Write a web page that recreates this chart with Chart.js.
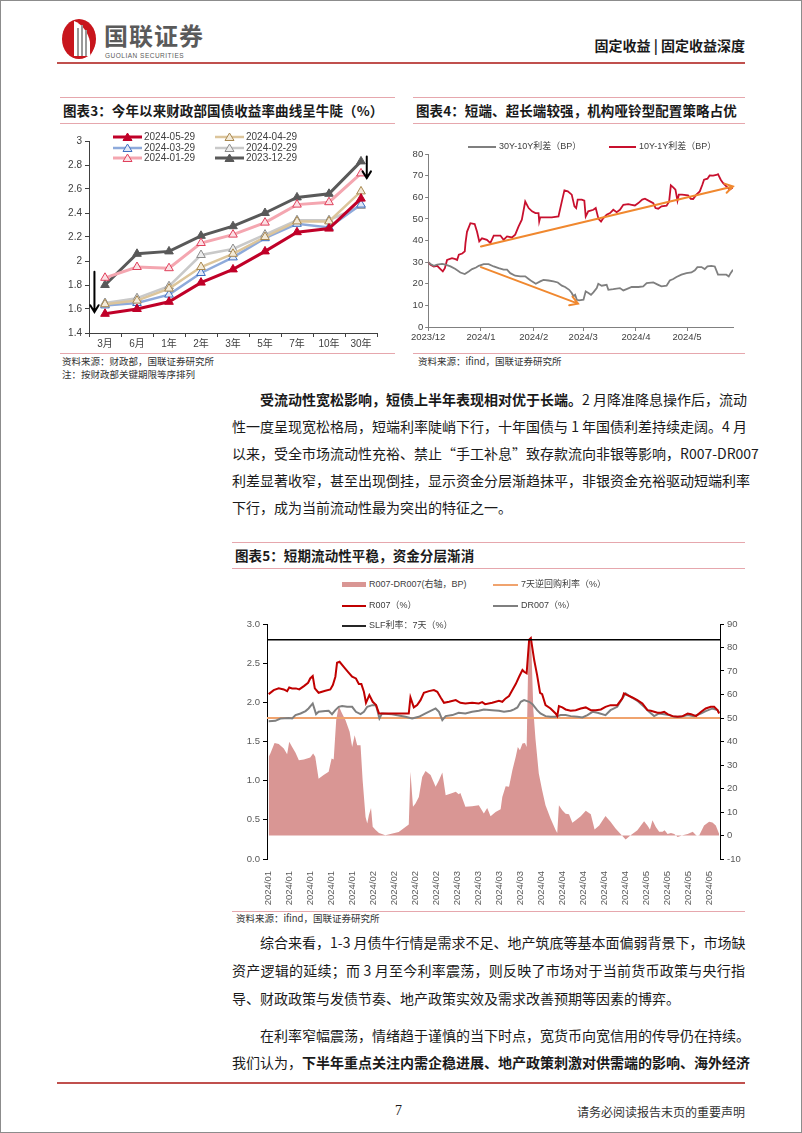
<!DOCTYPE html>
<html>
<head>
<meta charset="utf-8">
<script src="https://cdn.jsdelivr.net/npm/chart.js@4.4.1/dist/chart.umd.min.js"></script>
<style>
html, body { margin: 0; padding: 0; background: #fff; }
body { width: 802px; height: 1133px; position: relative; overflow: hidden;
       font-family: "Noto Sans CJK SC", sans-serif; color: #1a1a1a; }
.frame { position: absolute; left: 0; top: 0; width: 800px; height: 1131px; border: 1px solid #8c8c8c; }
.abs { position: absolute; }
.rule { position: absolute; height: 0; border-top: 2px solid #c0504d; }
.pink { position: absolute; height: 0; border-top: 1px solid #e6a7ad; }
.ttl { position: absolute; height: 25px; line-height: 25px; border-top: 1.5px solid #e6a7ad;
       border-bottom: 1.5px solid #e6a7ad; font-weight: 700; font-size: 13.5px; padding-left: 3px;
       letter-spacing: 0.1px; white-space: nowrap; }
.src { position: absolute; font-size: 9.5px; color: #333; white-space: nowrap; }
.ln { position: absolute; left: 232px; width: 513px; height: 20px; line-height: 20px; font-size: 14px;
      text-align: justify; text-align-last: justify; white-space: nowrap; color: #1a1a1a; }
.ln.last { text-align-last: left; }
.ln b { font-weight: 700; }
.lg { position: absolute; font-size: 9px; color: #404040; white-space: nowrap; line-height: 12px; height: 12px;
      font-family: "Liberation Sans", Arial, "Noto Sans CJK SC", sans-serif; }
.lg i { display: inline-block; vertical-align: middle; margin-right: 3px; }
canvas { position: absolute; }
</style>
</head>
<body>
<div class="frame"></div>

<!-- header -->
<svg class="abs" style="left:60px;top:16px" width="40" height="44" viewBox="0 0 40 44">
  <ellipse cx="19" cy="23" rx="17" ry="20" fill="#c8161d"/>
  <path d="M14 5 C22 8 28 16 30 26 L30 40 L14 40 Z" fill="#fff"/>
  <rect x="17" y="12" width="2" height="28" fill="#9a9a9a"/>
  <rect x="21" y="9" width="2" height="31" fill="#9a9a9a"/>
  <rect x="25" y="14" width="2" height="26" fill="#9a9a9a"/>
  <path d="M30 10 C36 16 37 30 30 40 C33 30 33 20 30 10 Z" fill="#c8161d"/>
</svg>
<div class="abs" style="left:104px;top:20px;font-size:24px;font-weight:700;color:#5a5a5a;letter-spacing:1px;line-height:30px">国联证券</div>
<div class="abs" style="left:105px;top:52px;font-size:6.5px;color:#5a5a5a;letter-spacing:0.5px;font-family:'Liberation Sans',Arial,sans-serif">GUOLIAN SECURITIES</div>
<div class="abs" style="right:57px;top:35px;font-size:14px;font-weight:700;line-height:20px">固定收益 | 固定收益深度</div>
<div class="rule" style="left:57px;top:62px;width:688px"></div>

<!-- chart 3 -->
<div class="ttl" style="left:60px;top:97px;width:332px">图表3：今年以来财政部国债收益率曲线呈牛陡（%）</div>
<canvas id="curveChart" width="330" height="222" style="left:60px;top:130px"></canvas>
<div id="curveLegend"></div>
<div class="pink" style="left:60px;top:353px;width:335px"></div>
<div class="src" style="left:62px;top:354px">资料来源：财政部，国联证券研究所</div>
<div class="src" style="left:62px;top:367px">注：按财政部关键期限等序排列</div>

<!-- chart 4 -->
<div class="ttl" style="left:413px;top:97px;width:329px">图表4：短端、超长端较强，机构哑铃型配置策略占优</div>
<canvas id="spreadChart" width="340" height="222" style="left:410px;top:130px"></canvas>
<div class="lg" style="left:468px;top:140px"><i style="width:28px;height:2px;background:#7f7f7f"></i>30Y-10Y利差（BP）</div>
<div class="lg" style="left:609px;top:140px"><i style="width:27px;height:2px;background:#c8102e"></i>10Y-1Y利差（BP）</div>
<div class="pink" style="left:413px;top:353px;width:332px"></div>
<div class="src" style="left:418px;top:354px">资料来源：ifind，国联证券研究所</div>

<!-- paragraph 1 -->
<div class="ln" style="top:389px;left:260px;width:485px"><b>受流动性宽松影响，短债上半年表现相对优于长端。</b>2 月降准降息操作后，流动</div>
<div class="ln" style="top:416px">性一度呈现宽松格局，短端利率陡峭下行，十年国债与 1 年国债利差持续走阔。4 月</div>
<div class="ln" style="top:443px">以来，受全市场流动性充裕、禁止“手工补息”致存款流向非银等影响，R007-DR007</div>
<div class="ln" style="top:470px">利差显著收窄，甚至出现倒挂，显示资金分层渐趋抹平，非银资金充裕驱动短端利率</div>
<div class="ln last" style="top:497px">下行，成为当前流动性最为突出的特征之一。</div>

<!-- chart 5 -->
<div class="ttl" style="left:232px;top:542px;width:510px">图表5：短期流动性平稳，资金分层渐消</div>
<canvas id="repoChart" width="515" height="298" style="left:232px;top:612px"></canvas>
<div class="lg" style="left:342px;top:578px"><i style="width:24px;height:5px;background:#d99694"></i>R007-DR007(右轴，BP)</div>
<div class="lg" style="left:493px;top:578px"><i style="width:25px;height:2px;background:#f0a36e"></i>7天逆回购利率（%）</div>
<div class="lg" style="left:342px;top:599px"><i style="width:24px;height:2px;background:#c00000"></i>R007（%）</div>
<div class="lg" style="left:493px;top:599px"><i style="width:25px;height:2px;background:#7f7f7f"></i>DR007（%）</div>
<div class="lg" style="left:342px;top:619px"><i style="width:24px;height:2px;background:#262626"></i>SLF利率：7天（%）</div>
<div class="pink" style="left:232px;top:911px;width:513px"></div>
<div class="src" style="left:236px;top:911px">资料来源：ifind，国联证券研究所</div>

<!-- paragraphs 2 and 3 -->
<div class="ln" style="top:932px;left:260px;width:485px">综合来看，1-3 月债牛行情是需求不足、地产筑底等基本面偏弱背景下，市场缺</div>
<div class="ln" style="top:960px">资产逻辑的延续；而 3 月至今利率震荡，则反映了市场对于当前货币政策与央行指</div>
<div class="ln last" style="top:988px">导、财政政策与发债节奏、地产政策实效及需求改善预期等因素的博弈。</div>
<div class="ln" style="top:1025px;left:260px;width:485px">在利率窄幅震荡，情绪趋于谨慎的当下时点，宽货币向宽信用的传导仍在持续。</div>
<div class="ln" style="top:1052px">我们认为，<b>下半年重点关注内需企稳进展、地产政策刺激对供需端的影响、海外经济</b></div>

<!-- footer -->
<div class="rule" style="left:57px;top:1082px;width:688px"></div>
<div class="abs" style="left:395px;top:1103px;font-size:14px;font-family:'Liberation Serif',serif">7</div>
<div class="abs" style="right:57px;top:1103px;font-size:12px;color:#333">请务必阅读报告末页的重要声明</div>

<script>
// ---------- chart 3: treasury curves ----------
const tenorLabels = ['3月', '6月', '1年', '2年', '3年', '5年', '7年', '10年', '30年'];
const curve20240529 = [1.56, 1.60, 1.66, 1.82, 1.93, 2.08, 2.24, 2.27, 2.52];
const curve20240429 = [1.64, 1.67, 1.77, 1.95, 2.06, 2.20, 2.33, 2.33, 2.58];
const curve20240329 = [1.63, 1.65, 1.72, 1.90, 2.03, 2.19, 2.31, 2.28, 2.47];
const curve20240229 = [1.65, 1.69, 1.79, 2.05, 2.10, 2.22, 2.34, 2.34, 2.46];
const curve20240129 = [1.86, 1.95, 1.94, 2.15, 2.22, 2.32, 2.47, 2.49, 2.73];
const curve20231229 = [1.80, 2.06, 2.08, 2.21, 2.29, 2.40, 2.53, 2.56, 2.83];
// arrows in data units: [x1, y1, x2, y2]
const curveArrows = [[-0.33, 1.91, -0.33, 1.575], [8.18, 2.87, 8.18, 2.69]];

// ---------- chart 4: term spreads (x = days since 2023-12-01) ----------
const monthTickDays = [0, 31, 62, 91, 122, 152];
const monthTickLabels = ['2023/12', '2024/1', '2024/2', '2024/3', '2024/4', '2024/5'];
const spread10y1yDays = [0, 1.4, 3.3, 5.3, 7.2, 8.6, 9.8, 11.1, 14, 16, 17, 18, 20, 21.5, 21.9, 22.8, 24.8, 27.3, 28.7, 30,
  31.6, 34.5, 36.5, 38.5, 42.4, 44.3, 46.3, 49.2, 51.1, 53.1, 55, 57, 59, 61, 63, 64.8, 65.2, 65.8, 68.7, 72.6,
  76.5, 78.5, 80, 82, 84.3, 85.9, 86.9, 87.8, 90.2, 91.7, 92.5, 94, 97, 98.4, 100, 101.5, 102.9, 104.8, 106.8, 108.7,
  110.7, 112.6, 114.6, 117.5, 119.5, 121.4, 123.4, 125.7, 127.3, 130.2, 132.2, 133.5, 135.1, 137, 140, 141.5, 142.5, 143.9, 145.2, 146.4,
  147.2, 149.1, 152.6, 154.2, 155.6, 157.5, 159.5, 161, 162, 164, 165.3, 167.3, 169.2, 170.2, 171.8, 173.1, 175.1, 177, 179];
const spread10y1y = [30, 28.8, 28, 28.3, 26.8, 25.7, 27.2, 31, 31.8, 31.4, 31, 33.4, 34, 35, 38.8, 44, 48, 47.6, 44, 39.6,
  41, 40.3, 38.8, 42.3, 42.3, 40.3, 41.9, 41.4, 42.7, 46.5, 49.6, 58, 55, 53.5, 52.7, 52.7, 48.8, 50.7, 50.7, 50.7,
  51.1, 58.1, 63.2, 62.7, 61.2, 55.8, 55, 58.9, 58.9, 58.4, 51.1, 53.5, 54.2, 55, 50, 48.8, 50.4, 51.9, 52.7, 54.2,
  53.1, 54.2, 56.5, 56.8, 56.5, 56.2, 57.3, 58.9, 59.3, 58.1, 57.3, 55, 54.7, 55.8, 56.1, 58.1, 65.5, 64.6, 63.5, 58.4,
  61.2, 61.2, 60.9, 59.3, 59.2, 61.2, 62.7, 65.8, 68.1, 68.6, 70.1, 70, 70.3, 70.7, 68.1, 66.6, 65, 63.5, 64.6];
const spread30y10yDays = [0, 1.4, 3.3, 5.3, 8.2, 10.2, 13.1, 16, 18.9, 21.5, 23.8, 25.8, 28.1, 29.7, 32.6, 35.5, 38.5, 41.4, 44.3, 46.3,
  48.2, 51.1, 54.1, 57, 59, 60.9, 63.2, 65.8, 67.7, 70.7, 73.6, 76.1, 78.5, 80.4, 82.8, 84.3, 85.3, 86.3, 87.3, 88.6,
  91.2, 92.5, 94.1, 95.6, 97, 99, 99.9, 101.9, 104.8, 105.8, 108.7, 112.6, 114.6, 116.5, 119.5, 123.4, 126.3, 128.3, 132.2, 135.1,
  137, 140, 141.9, 143.9, 145.8, 148.7, 151.7, 154.6, 156.6, 158.1, 160.5, 162.4, 164, 166.3, 168.3, 170.2, 173.1, 175.1, 176.5, 177.6, 179];
const spread30y10y = [30, 29.1, 28.3, 28.8, 29.2, 28.8, 28, 26.8, 25.2, 24.5, 25.7, 26.8, 27.5, 28.3, 29.1, 29.1, 28, 27.2, 26.5, 26.5,
  24.9, 23.7, 23.4, 23.4, 22.2, 21.1, 20, 21.1, 21.8, 21.5, 21.1, 20.6, 19.1, 18.5, 17.2, 15.7, 14.2, 14.9, 12.6, 12.3,
  12.6, 16.5, 15.7, 14.9, 16, 18, 20, 19.1, 19.5, 17.2, 17.5, 18, 16.9, 17.5, 18.5, 18.5, 18.8, 20.3, 20.6, 19.5,
  18.8, 19.1, 21.5, 22.2, 23.1, 24.2, 24.9, 25.2, 26.2, 27.7, 27.7, 26.8, 28, 28.3, 28, 24.2, 24.2, 24.2, 23.4, 24.9, 26.5];
const spreadArrows = [[31, 37.2, 179, 65], [31, 27.7, 88, 10.8]];

// ---------- chart 5: repo rates (x = trading-day index) ----------
const dayTickIdx = [0, 5, 10, 15, 20, 25, 30, 35, 40, 45, 50, 55, 60, 65, 70, 75, 80, 85, 90, 95, 100, 105];
const dayTickLabels = ['2024/01', '2024/01', '2024/01', '2024/01', '2024/01', '2024/02', '2024/02', '2024/02', '2024/02',
  '2024/03', '2024/03', '2024/03', '2024/03', '2024/04', '2024/04', '2024/04', '2024/04', '2024/04',
  '2024/05', '2024/05', '2024/05', '2024/05'];
const r007Idx = [0, 1.2, 2.4, 3.6, 4.4, 4.9, 5.6, 6.5, 7.3, 8.4, 9.4, 9.9, 10.5, 11, 11.9, 13.5, 14.7, 15.3, 15.9, 16.3,
  16.9, 17.9, 18.9, 19.9, 20.8, 21.5, 22.1, 22.7, 23.2, 24, 24.8, 25.6, 26.3, 33.4, 33.8, 34.6, 35.4, 36.2, 37, 38.2,
  39.4, 40.2, 41, 41.8, 43, 44.6, 45.7, 46.9, 48.5, 50.1, 50.9, 51.6, 53.3, 54.9, 55.7, 56.5, 57.3, 58.1, 58.9, 59.7,
  60.5, 60.9, 61.5, 62.1, 62.5, 63.3, 64, 64.7, 65.2, 66, 67.2, 68.4, 68.8, 69.2, 70, 70.8, 72, 73.2, 74.4, 75.6,
  76.8, 78, 79.2, 80.3, 81.5, 83.1, 84.3, 84.7, 85.5, 86.7, 87.9, 89.1, 90.3, 91.1, 91.9, 92.7, 93.5, 94.3, 95.1, 96.3,
  97.5, 98.7, 99.9, 100.7, 101.9, 103.1, 104.2, 105.4, 106.2, 107, 107.4];
const r007 = [2.105, 2.156, 2.178, 2.165, 2.143, 2.19, 2.178, 2.178, 2.165, 2.207, 2.25, 2.305, 2.335, 2.178, 2.122, 2.148, 2.165, 2.22, 2.327, 2.506,
  2.518, 2.454, 2.39, 2.327, 2.305, 2.233, 2.233, 2.135, 1.994, 2.092, 2.007, 1.964, 1.858, 1.858, 2.062, 1.935, 1.964, 2.028, 2.122, 2.143,
  2.156, 2.135, 2.062, 1.994, 2.007, 2.028, 1.994, 1.986, 1.994, 1.986, 2.003, 1.977, 1.994, 2.02, 2.007, 2.05, 2.08, 2.156, 2.233, 2.327,
  2.412, 2.39, 2.37, 2.80, 2.82, 2.54, 2.348, 2.122, 2.105, 1.964, 1.922, 1.858, 1.824, 1.952, 1.935, 1.909, 1.892, 1.9, 1.922, 1.935,
  1.9, 1.9, 1.909, 1.943, 1.964, 1.964, 2.05, 2.114, 2.092, 2.062, 2.028, 1.986, 1.9, 1.892, 1.879, 1.866, 1.866, 1.879, 1.849, 1.824,
  1.815, 1.824, 1.858, 1.849, 1.824, 1.879, 1.922, 1.943, 1.943, 1.9, 1.858];
const dr007Idx = [0, 1.6, 2.8, 4.8, 5.6, 6.4, 7.6, 8.8, 9.5, 10.5, 11.3, 11.9, 13.5, 14.3, 15.1, 15.9, 16.7, 17.5, 18.7, 19.9,
  20.8, 21.9, 22.7, 23.5, 24.7, 25.6, 26.4, 27, 29.4, 32.6, 34.2, 35.8, 37.4, 39.8, 40.6, 41.4, 42.2, 43.8, 45.3, 46.9,
  48.5, 50.1, 51.3, 53.3, 54.9, 56.1, 57.7, 58.5, 59.3, 60.1, 60.9, 62.1, 62.9, 64, 64.8, 66, 67.2, 68.4, 69.6, 70.8,
  72, 73.6, 74.8, 76, 77.2, 78.4, 80.3, 81.5, 83.1, 84.3, 85.1, 86.3, 87.9, 89.5, 90.7, 91.9, 93.1, 94.3, 95.5, 96.7,
  98.3, 99.9, 101.4, 103, 104.2, 105.8, 107, 107.4];
const dr007 = [1.76, 1.764, 1.794, 1.8, 1.794, 1.837, 1.858, 1.888, 1.922, 1.986, 1.849, 1.879, 1.888, 1.892, 1.849, 1.9, 1.943, 1.952, 1.943, 1.943,
  1.879, 1.849, 1.879, 1.943, 1.964, 1.964, 1.794, 1.858, 1.849, 1.815, 1.794, 1.815, 1.858, 1.922, 1.879, 1.773, 1.824, 1.837, 1.866, 1.858,
  1.879, 1.892, 1.909, 1.9, 1.892, 1.879, 1.892, 1.909, 1.935, 2.007, 2.028, 2.007, 1.977, 1.9, 1.858, 1.824, 1.815, 1.815, 1.837, 1.837,
  1.824, 1.815, 1.807, 1.837, 1.879, 1.866, 1.837, 1.9, 1.943, 2.05, 2.114, 2.071, 2.02, 1.943, 1.879, 1.824, 1.858, 1.849, 1.837, 1.815,
  1.815, 1.837, 1.824, 1.858, 1.888, 1.922, 1.9, 1.866];
const spreadIdx = [0, 0.4, 1.4, 2.4, 3.6, 4.4, 4.9, 5.6, 6.4, 7.2, 8.4, 9.9, 10.6, 11.1, 11.9, 13.1, 14.3, 15, 15.5, 16.1,
  16.7, 17.5, 18.3, 19.3, 19.9, 20.5, 21.1, 21.9, 22.4, 23.1, 23.5, 23.9, 24.4, 24.8, 25.5, 26.3, 27, 27.8, 31, 33.4,
  33.8, 34.4, 35, 35.8, 36.6, 37.4, 38.6, 39.8, 40.6, 41.4, 42.2, 43.8, 44.6, 45.3, 45.7, 46.9, 48.5, 50.1, 51.3, 52.1,
  52.9, 54.1, 55.3, 55.7, 56.5, 57.3, 58.1, 58.9, 59.4, 59.9, 60.5, 61.1, 61.5, 61.9, 62.2, 62.6, 63.1, 63.6, 64.4, 65.2,
  66, 67.2, 68.4, 68.8, 69.2, 70, 70.8, 71.6, 72.4, 73.2, 74.4, 75.6, 76.8, 77.7, 78.8, 80.3, 81.5, 82.7, 83.9, 85.1,
  86.3, 87.9, 89.5, 90.3, 90.9, 91.5, 92.3, 93.1, 93.9, 94.4, 95.1, 95.9, 96.7, 97.5, 98.7, 99.9, 101.1, 101.9, 102.6, 103.8,
  105, 105.8, 106.6, 107.4];
const spreadBp = [33.5, 34.9, 39.4, 38.9, 37, 34.6, 39.9, 37.7, 35.2, 32, 32.3, 33.2, 34.9, 33.5, 24.2, 25.7, 27.1, 32.8, 32.3, 49.1,
  55.1, 51.9, 49.1, 44.1, 37.7, 42.7, 38.4, 38.4, 23.5, 7.9, 5.1, 8.7, 11.7, 3.7, 2.3, 1.1, 0.6, 0.1, 1.5, 4.7,
  27.1, 12.2, 13.6, 16.4, 24.9, 27.5, 25.7, 20.7, 23.5, 26.8, 17.1, 18.1, 18.6, 17.6, 18.1, 12.2, 12.4, 12.9, 9.4, 11.7,
  8.2, 10, 11.2, 16.4, 21, 20.7, 27.8, 33.5, 37.7, 36.3, 39.1, 39.4, 37.7, 76.1, 83.9, 81.8, 53.4, 41.3, 26.4, 19.3,
  12.9, 7.2, 2.3, 1.1, 12.9, 10.7, 9.3, 9, 5.4, 6.5, 8.2, 10.5, 9, 2.6, 4.3, 8.3, 5.8, 3, 0.6, -1.7,
  0.1, 2.2, 6.1, 4.3, 2.6, 6.5, 3.6, 1.6, 1.6, 2.2, 0.6, 1.1, 0.6, -0.6, 0.1, 0.6, 1.6, 0.1, -0.1, 4.3,
  5.8, 5.5, 4.3, 0.6];
const reverseRepo7d = 1.80;
const slf7d = 2.80;

Chart.defaults.font.family = "'Liberation Sans', Arial, 'Noto Sans CJK SC', sans-serif";
Chart.defaults.animation = false;

function pts(xs, ys) {
  return xs.map((x, i) => ({ x: x, y: ys[i] }));
}

const arrowPlugin = {
  id: 'arrows',
  afterDatasetsDraw(chart, args, opts) {
    const ctx = chart.ctx;
    const xs = chart.scales.x, ys = chart.scales.y;
    ctx.save();
    ctx.strokeStyle = opts.color;
    ctx.lineWidth = opts.width;
    ctx.lineCap = 'round';
    opts.items.forEach(a => {
      const x1 = xs.getPixelForValue(a[0]), y1 = ys.getPixelForValue(a[1]);
      const x2 = xs.getPixelForValue(a[2]), y2 = ys.getPixelForValue(a[3]);
      const ang = Math.atan2(y2 - y1, x2 - x1);
      ctx.beginPath();
      ctx.moveTo(x1, y1);
      ctx.lineTo(x2, y2);
      ctx.moveTo(x2 - opts.head * Math.cos(ang - 0.55), y2 - opts.head * Math.sin(ang - 0.55));
      ctx.lineTo(x2, y2);
      ctx.lineTo(x2 - opts.head * Math.cos(ang + 0.55), y2 - opts.head * Math.sin(ang + 0.55));
      ctx.stroke();
    });
    ctx.restore();
  }
};

// chart 3
var curveSeries = [
  { label: '2024-05-29', data: curve20240529, line: '#c00028', mark: '#c00028', fill: '#c00028', w: 3 },
  { label: '2024-04-29', data: curve20240429, line: '#dcc59b', mark: '#a8874f', fill: '#f3ead8', w: 2.5 },
  { label: '2024-03-29', data: curve20240329, line: '#8eaadb', mark: '#3f6fc0', fill: '#dfe8f7', w: 2.5 },
  { label: '2024-02-29', data: curve20240229, line: '#c9c9c9', mark: '#8c8c8c', fill: '#ececec', w: 2.5 },
  { label: '2024-01-29', data: curve20240129, line: '#f4a6b0', mark: '#e0405c', fill: '#fbe0e4', w: 3 },
  { label: '2023-12-29', data: curve20231229, line: '#595959', mark: '#595959', fill: '#595959', w: 3 },
];

new Chart(document.getElementById('curveChart'), {
  type: 'line',
  data: {
    labels: tenorLabels,
    datasets: curveSeries.map(s => ({
      label: s.label, data: s.data, borderColor: s.line, borderWidth: s.w,
      pointStyle: 'triangle', pointRadius: 5, pointBorderWidth: 1,
      pointBorderColor: s.mark, pointBackgroundColor: s.fill, tension: 0,
    })),
  },
  options: {
    responsive: false,
    layout: { padding: { top: 11, right: 13, bottom: 0, left: 0 } },
    plugins: {
      legend: { display: false },
      tooltip: { enabled: false },
      arrows: { items: curveArrows, color: '#000', width: 2, head: 8 },
    },
    scales: {
      x: {
        offset: true,
        grid: { display: true, drawOnChartArea: false, offset: true, tickLength: 4, color: '#404040' },
        border: { color: '#404040' },
        ticks: { color: '#404040', font: { size: 10 }, padding: 1, maxRotation: 0 },
        afterFit: s => { s.height = 19; },
      },
      y: {
        min: 1.4, max: 3,
        grid: { display: true, drawOnChartArea: false, tickLength: 4, color: '#404040' },
        border: { color: '#404040' },
        ticks: { stepSize: 0.2, color: '#404040', font: { size: 10 }, padding: 3,
                 callback: v => String(+v.toFixed(1)) },
        afterFit: s => { s.width = 29; },
      },
    },
  },
  plugins: [arrowPlugin],
});

// chart 3 legend (two columns, three rows)
(function () {
  var box = document.getElementById('curveLegend');
  var rows = [137, 148, 158];
  var cols = [113, 215];
  curveSeries.forEach(function (s, i) {
    var el = document.createElement('div');
    el.className = 'lg';
    el.style.left = cols[i % 2] + 'px';
    el.style.top = (rows[Math.floor(i / 2)] - 6) + 'px';
    el.style.fontSize = '10px';
    el.innerHTML = '<svg width="29" height="10" style="vertical-align:middle;margin-right:2px">' +
      '<line x1="0" y1="5" x2="29" y2="5" stroke="' + s.line + '" stroke-width="' + s.w + '"/>' +
      '<polygon points="14.5,1 19,8.5 10,8.5" fill="' + s.fill + '" stroke="' + s.mark + '" stroke-width="1"/></svg>' + s.label;
    box.appendChild(el);
  });
})();

// chart 4
new Chart(document.getElementById('spreadChart'), {
  type: 'line',
  data: {
    datasets: [
      { label: '30Y-10Y利差（BP）', data: pts(spread30y10yDays, spread30y10y), borderColor: '#7f7f7f',
        borderWidth: 1.8, pointRadius: 0, tension: 0 },
      { label: '10Y-1Y利差（BP）', data: pts(spread10y1yDays, spread10y1y), borderColor: '#c8102e',
        borderWidth: 1.8, pointRadius: 0, tension: 0 },
    ],
  },
  options: {
    responsive: false,
    layout: { padding: { top: 24, right: 17, bottom: 0, left: 0 } },
    plugins: {
      legend: { display: false },
      tooltip: { enabled: false },
      arrows: { items: spreadArrows, color: '#f0882f', width: 2, head: 9 },
    },
    scales: {
      x: {
        type: 'linear', min: 0, max: 179,
        afterBuildTicks: s => { s.ticks = monthTickDays.map(v => ({ value: v })); },
        grid: { display: true, drawOnChartArea: false, tickLength: 4, color: '#808080' },
        border: { color: '#808080' },
        ticks: { autoSkip: false, maxRotation: 0, color: '#404040', font: { size: 9.5 }, padding: 1,
                 callback: (v, i) => monthTickLabels[i] },
        afterFit: s => { s.height = 25; },
      },
      y: {
        min: 0, max: 80,
        grid: { display: true, drawOnChartArea: false, tickLength: 3, color: '#808080' },
        border: { color: '#808080' },
        ticks: { stepSize: 10, color: '#404040', font: { size: 9.5 }, padding: 2 },
        afterFit: s => { s.width = 18; },
      },
    },
  },
  plugins: [arrowPlugin],
});

// chart 5
var xMin = -0.4, xMax = 107.6;
new Chart(document.getElementById('repoChart'), {
  type: 'line',
  data: {
    datasets: [
      { label: 'SLF利率：7天（%）', data: [{ x: xMin, y: slf7d }, { x: xMax, y: slf7d }], borderColor: '#000',
        borderWidth: 1.5, pointRadius: 0, yAxisID: 'y', order: 1 },
      { label: 'R007（%）', data: pts(r007Idx, r007), borderColor: '#c00000', borderWidth: 2,
        pointRadius: 0, tension: 0, yAxisID: 'y', order: 2 },
      { label: 'DR007（%）', data: pts(dr007Idx, dr007), borderColor: '#7f7f7f', borderWidth: 2,
        pointRadius: 0, tension: 0, yAxisID: 'y', order: 3 },
      { label: '7天逆回购利率（%）', data: [{ x: xMin, y: reverseRepo7d }, { x: xMax, y: reverseRepo7d }],
        borderColor: '#f0a36e', borderWidth: 2, pointRadius: 0, yAxisID: 'y', order: 4 },
      { label: 'R007-DR007(右轴，BP)', data: pts(spreadIdx, spreadBp), borderColor: 'rgba(0,0,0,0)',
        borderWidth: 0, backgroundColor: '#d99694', fill: 'origin', pointRadius: 0, tension: 0,
        yAxisID: 'y1', order: 10 },
    ],
  },
  options: {
    responsive: false,
    layout: { padding: { top: 12, right: 0, bottom: 0, left: 0 } },
    plugins: { legend: { display: false }, tooltip: { enabled: false } },
    scales: {
      x: {
        type: 'linear', min: xMin, max: xMax,
        afterBuildTicks: s => { s.ticks = dayTickIdx.map(v => ({ value: v })); },
        grid: { display: false },
        border: { display: false },
        ticks: { autoSkip: false, minRotation: 90, maxRotation: 90, color: '#595959', font: { size: 9.5 },
                 padding: 4, callback: (v, i) => dayTickLabels[i] },
        afterFit: s => { s.height = 51; },
      },
      y: {
        position: 'left', min: 0, max: 3,
        grid: { display: true, drawOnChartArea: false, tickLength: 4, color: '#000' },
        border: { color: '#000' },
        ticks: { stepSize: 0.5, color: '#595959', font: { size: 9.5 }, padding: 3, callback: v => v.toFixed(1) },
        afterFit: s => { s.width = 35; },
      },
      y1: {
        position: 'right', min: -10, max: 90,
        grid: { display: true, drawOnChartArea: false, tickLength: 4, color: '#000' },
        border: { color: '#000' },
        ticks: { stepSize: 10, color: '#595959', font: { size: 9.5 }, padding: 3 },
        afterFit: s => { s.width = 27; },
      },
    },
  },
});
</script>
</body>
</html>
